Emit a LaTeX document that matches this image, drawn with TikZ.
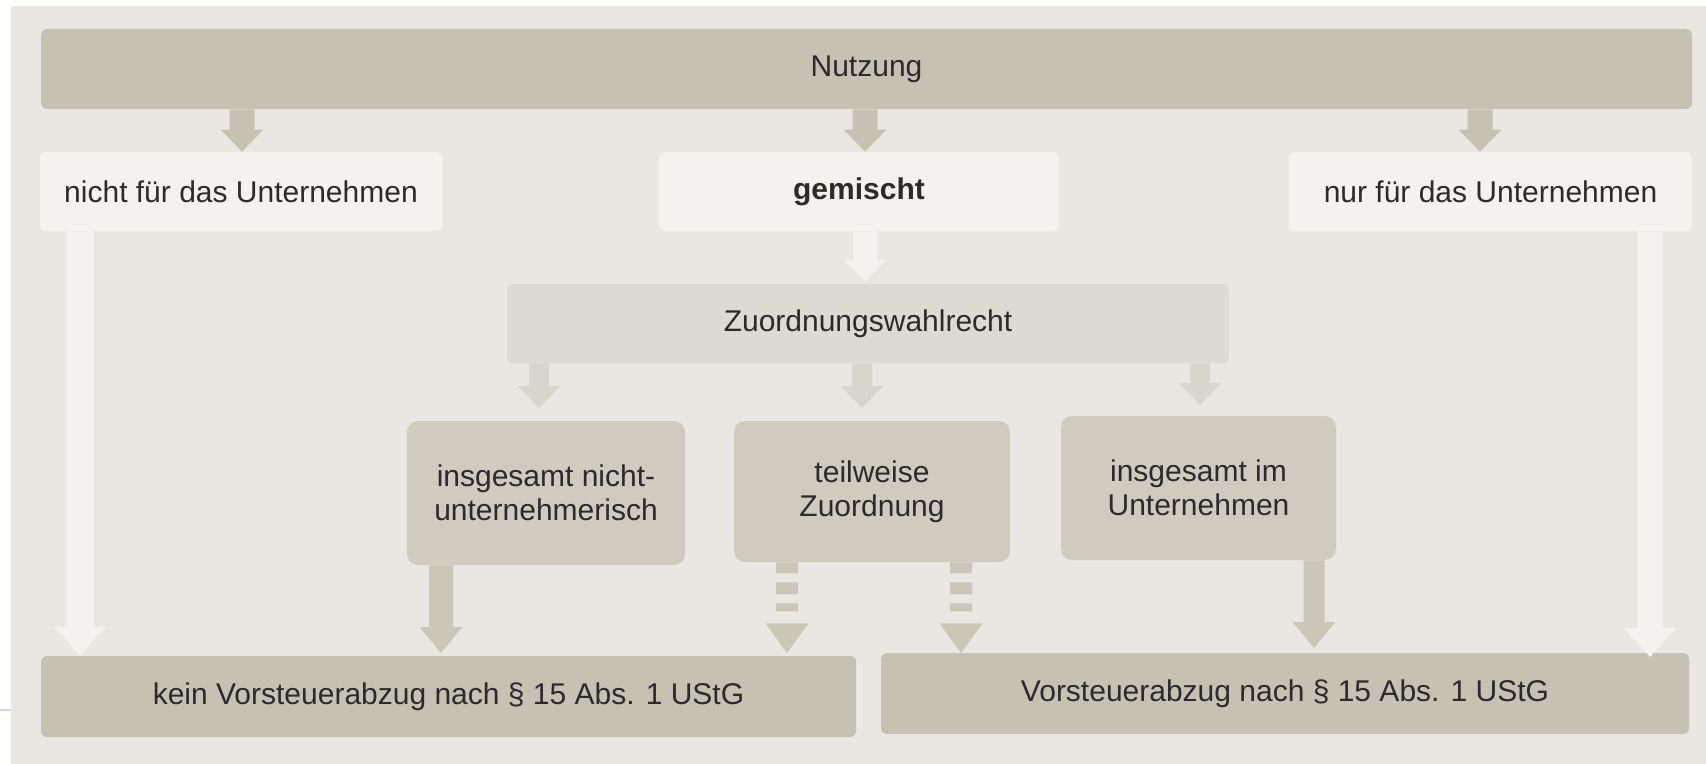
\documentclass[tikz,border=0pt]{standalone}
\usepackage{fontspec}
\setmainfont{Liberation Sans}
\usetikzlibrary{calc}
\definecolor{bgc}{HTML}{E8E7E2}
\definecolor{dkc}{HTML}{C6C2B3}
\definecolor{mdc}{HTML}{CFCCBF}
\definecolor{mdarrow}{HTML}{CAC7B9}
\definecolor{zc}{HTML}{DCDAD2}
\definecolor{zarrow}{HTML}{D7D5CC}
\definecolor{wc}{HTML}{F3F2EE}
\definecolor{txc}{HTML}{2B2B2B}
\definecolor{edgec}{HTML}{D9D9D9}
% block arrow: colour, start, end, shaft half width, head half width, head length
\newcommand{\blockarr}[6]{%
  \fill[#1] let \p1=(#2), \p2=(#3) in
    (\x1-#4,\y1) -- (\x1+#4,\y1) -- (\x1+#4,\y2+#6) -- (\x1+#5,\y2+#6)
    -- (\x1,\y2) -- (\x1-#5,\y2+#6) -- (\x1-#4,\y2+#6) -- cycle;}
% dashed block arrow: colour, start, end
\newcommand{\dashblockarr}[3]{%
  \fill[#1] let \p1=(#2), \p2=(#3) in
    (\x1-5.5pt,\y1) rectangle (\x1+5.5pt,\y1-5.5pt)
    (\x1-5.5pt,\y1-10pt) rectangle (\x1+5.5pt,\y1-16pt)
    (\x1-5.5pt,\y1-20.5pt) rectangle (\x1+5.5pt,\y1-24.5pt)
    (\x1-10.75pt,\y1-30.5pt) -- (\x1+10.75pt,\y1-30.5pt) -- (\x1,\y2) -- cycle;}
\begin{document}
\begin{tikzpicture}[x=0.5pt,y=-0.5pt,
  basebox/.style={rectangle, inner sep=0pt, text=txc, align=center,
    font=\fontsize{15pt}{17pt}\selectfont},
  dkbox/.style={basebox, fill=dkc, rounded corners=3pt},
  wbox/.style={basebox, fill=wc, rounded corners=3pt},
  zbox/.style={basebox, fill=zc, rounded corners=3pt},
  mbox/.style={basebox, fill=mdc, rounded corners=5.5pt}]
\useasboundingbox (0,0) rectangle (1706,764);
\fill[white] (0,0) rectangle (1706,764);
\fill[bgc] (11,6) rectangle (1706,764);
\draw[edgec, line width=1pt] (0,710) -- (11,710);

\node[dkbox, minimum width=825.5pt, minimum height=40pt] (nutz) at (866.5,69) {Nutzung};
\node[wbox, minimum width=201pt, minimum height=39.5pt] (nicht) at (241,191.5) {nicht für das Unternehmen};
\node[wbox, minimum width=200pt, minimum height=39.5pt] (gem) at (859,191.5) {\textbf{gemischt}};
\node[wbox, minimum width=201.5pt, minimum height=39.5pt] (nur) at (1490.5,191.5) {nur für das Unternehmen};
\node[zbox, minimum width=361pt, minimum height=39.5pt] (zuord) at (868,323.5) {Zuordnungswahlrecht};
\node[mbox, minimum width=139pt, minimum height=72pt] (insn) at (546,493) {insgesamt nicht-\\unternehmerisch};
\node[mbox, minimum width=138pt, minimum height=70.5pt] (teil) at (872,491.5) {teilweise\\Zuordnung};
\node[mbox, minimum width=137.5pt, minimum height=72pt] (insi) at (1198.5,488) {insgesamt im\\Unternehmen};
\node[dkbox, minimum width=407.5pt, minimum height=40.5pt] (kein) at (448.5,696.5) {kein Vorsteuerabzug nach § 15 Abs. 1 UStG};
\node[dkbox, minimum width=404pt, minimum height=40.5pt] (vst) at (1285,693.5) {Vorsteuerabzug nach § 15 Abs. 1 UStG};

% arrows from Nutzung
\blockarr{dkc}{242,0 |- nutz.south}{242,0 |- nicht.north}{6.25pt}{10.75pt}{11pt}
\blockarr{dkc}{865,0 |- nutz.south}{865,0 |- gem.north}{6.25pt}{10.75pt}{11pt}
\blockarr{dkc}{1480,0 |- nutz.south}{1480,0 |- nur.north}{6.25pt}{10.75pt}{11pt}
% gemischt -> Zuordnungswahlrecht
\blockarr{wc}{865,0 |- gem.south}{865,281}{6pt}{10.5pt}{10.5pt}
% Zuordnungswahlrecht -> options
\blockarr{zarrow}{539,0 |- zuord.south}{539,408}{5pt}{10.75pt}{11pt}
\blockarr{zarrow}{862,0 |- zuord.south}{862,408}{5pt}{10.75pt}{11pt}
\blockarr{zarrow}{1200,0 |- zuord.south}{1200,405}{5pt}{10.75pt}{11pt}
% long light arrows
\blockarr{wc}{80,0 |- nicht.south}{80,0 |- kein.north}{6.75pt}{13pt}{14.5pt}
\blockarr{wc}{1650,0 |- nur.south}{1650,657}{6.25pt}{13pt}{14.5pt}
% options -> results
\blockarr{mdarrow}{441,0 |- insn.south}{441,653}{6pt}{10.75pt}{13pt}
\blockarr{mdarrow}{1314,0 |- insi.south}{1314,648}{5.25pt}{10.75pt}{13pt}
\dashblockarr{mdarrow}{787,0 |- teil.south}{787,653}
\dashblockarr{mdarrow}{961,0 |- teil.south}{961,653}
\end{tikzpicture}
\end{document}
